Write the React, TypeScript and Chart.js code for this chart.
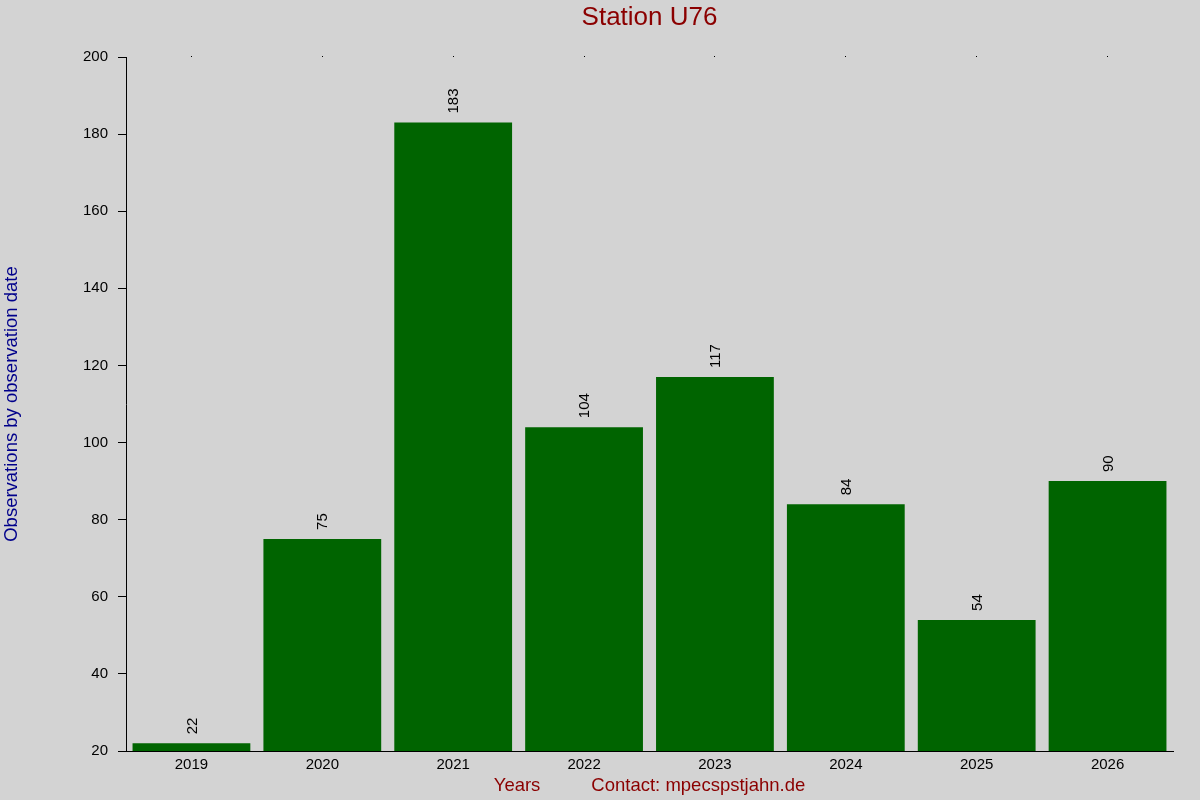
import { useEffect, useRef } from "react";
import { Chart, registerables } from "chart.js";

Chart.register(...registerables);

const years = ["2019", "2020", "2021", "2022", "2023", "2024", "2025", "2026"];
const observations = [22, 75, 183, 104, 117, 84, 54, 90];
const yTicks = { min: 20, max: 200, step: 20 };

const chartTitle = "Station U76";
const yTitle = "Observations by observation date";
const xTitle = "Years";
const contact = "Contact: mpecspstjahn.de";

const FONT = "'Liberation Sans', Arial, sans-serif";

// draws the title, axis titles and the rotated value labels
const textPlugin = {
  id: "texts",
  afterDraw(chart: any) {
    const { ctx, chartArea } = chart;
    const cx = (chartArea.left + chartArea.right) / 2;
    const cy = (chartArea.top + chartArea.bottom) / 2;
    ctx.save();
    ctx.textBaseline = "middle";
    ctx.textAlign = "center";

    ctx.fillStyle = "#8b0000";
    ctx.font = `26px ${FONT}`;
    ctx.fillText(chartTitle, cx, 18);

    ctx.font = `18.5px ${FONT}`;
    const gap = 51;
    const wYears = ctx.measureText(xTitle).width;
    const wContact = ctx.measureText(contact).width;
    const start = cx - (wYears + gap + wContact) / 2;
    ctx.textAlign = "left";
    ctx.fillText(xTitle, start, 786);
    ctx.fillText(contact, start + wYears + gap, 786);

    ctx.fillStyle = "#00008b";
    ctx.textAlign = "center";
    ctx.translate(12, cy);
    ctx.rotate(-Math.PI / 2);
    ctx.fillText(yTitle, 0, 0);
    ctx.restore();

    // value labels
    ctx.save();
    ctx.fillStyle = "#000";
    ctx.font = `15px ${FONT}`;
    ctx.textAlign = "left";
    ctx.textBaseline = "middle";
    const meta = chart.getDatasetMeta(0);
    meta.data.forEach((bar: any, i: number) => {
      ctx.save();
      ctx.translate(bar.x + 1, bar.y - 9);
      ctx.rotate(-Math.PI / 2);
      ctx.fillText(String(observations[i]), 0, 0);
      ctx.restore();
    });
    ctx.restore();
  },
};

const bgPlugin = {
  id: "bg",
  beforeDraw(chart: any) {
    const { ctx, width, height } = chart;
    ctx.save();
    ctx.fillStyle = "#d3d3d3";
    ctx.fillRect(0, 0, width, height);
    ctx.restore();
  },
};

export default function App() {
  const chartRef = useRef<HTMLCanvasElement>(null);

  useEffect(() => {
    document.body.style.margin = "0";
    let myChart: Chart | null = null;
    if (chartRef.current) {
      myChart = new Chart(chartRef.current, {
        type: "bar",
        data: {
          labels: years,
          datasets: [
            {
              data: observations,
              backgroundColor: "#006400",
              barPercentage: 0.9,
              categoryPercentage: 1,
              xAxisID: "x",
              yAxisID: "y",
            },
          ],
        },
        options: {
          animation: false,
          responsive: false,
          devicePixelRatio: 1,
          layout: { padding: { top: 57, right: 27, bottom: 0, left: 0 } },
          plugins: {
            legend: { display: false },
            title: { display: false },
            tooltip: { enabled: false },
          },
          scales: {
            x: {
              type: "category",
              position: "bottom",
              offset: true,
              grid: { display: false, tickLength: 0 },
              border: { display: true, color: "#000", width: 1 },
              ticks: {
                color: "#000",
                font: { size: 15, family: FONT },
                padding: 5,
                maxRotation: 0,
              },
              afterFit: (scale: any) => {
                scale.height = 49;
              },
            },
            x2: {
              type: "category",
              position: "top",
              labels: years,
              offset: true,
              grid: {
                offset: false,
                drawOnChartArea: false,
                tickLength: 1,
                color: "#000",
              },
              border: { display: false },
              ticks: { display: false },
              afterFit: (scale: any) => {
                scale.height = 0;
              },
            },
            y: {
              min: yTicks.min,
              max: yTicks.max,
              grid: { drawOnChartArea: false, tickLength: 8, color: "#000" },
              border: { display: true, color: "#000", width: 1 },
              ticks: {
                stepSize: yTicks.step,
                color: "#000",
                padding: 10,
                font: { size: 15, family: FONT },
              },
              afterFit: (scale: any) => {
                scale.width = 126;
              },
            },
          },
        },
        plugins: [bgPlugin, textPlugin],
      });
    }
    return () => {
      if (myChart) {
        myChart.destroy();
      }
    };
  }, []);

  return (
    <div style={{ width: 1200, height: 800 }}>
      <canvas ref={chartRef} width={1200} height={800}></canvas>
    </div>
  );
}
